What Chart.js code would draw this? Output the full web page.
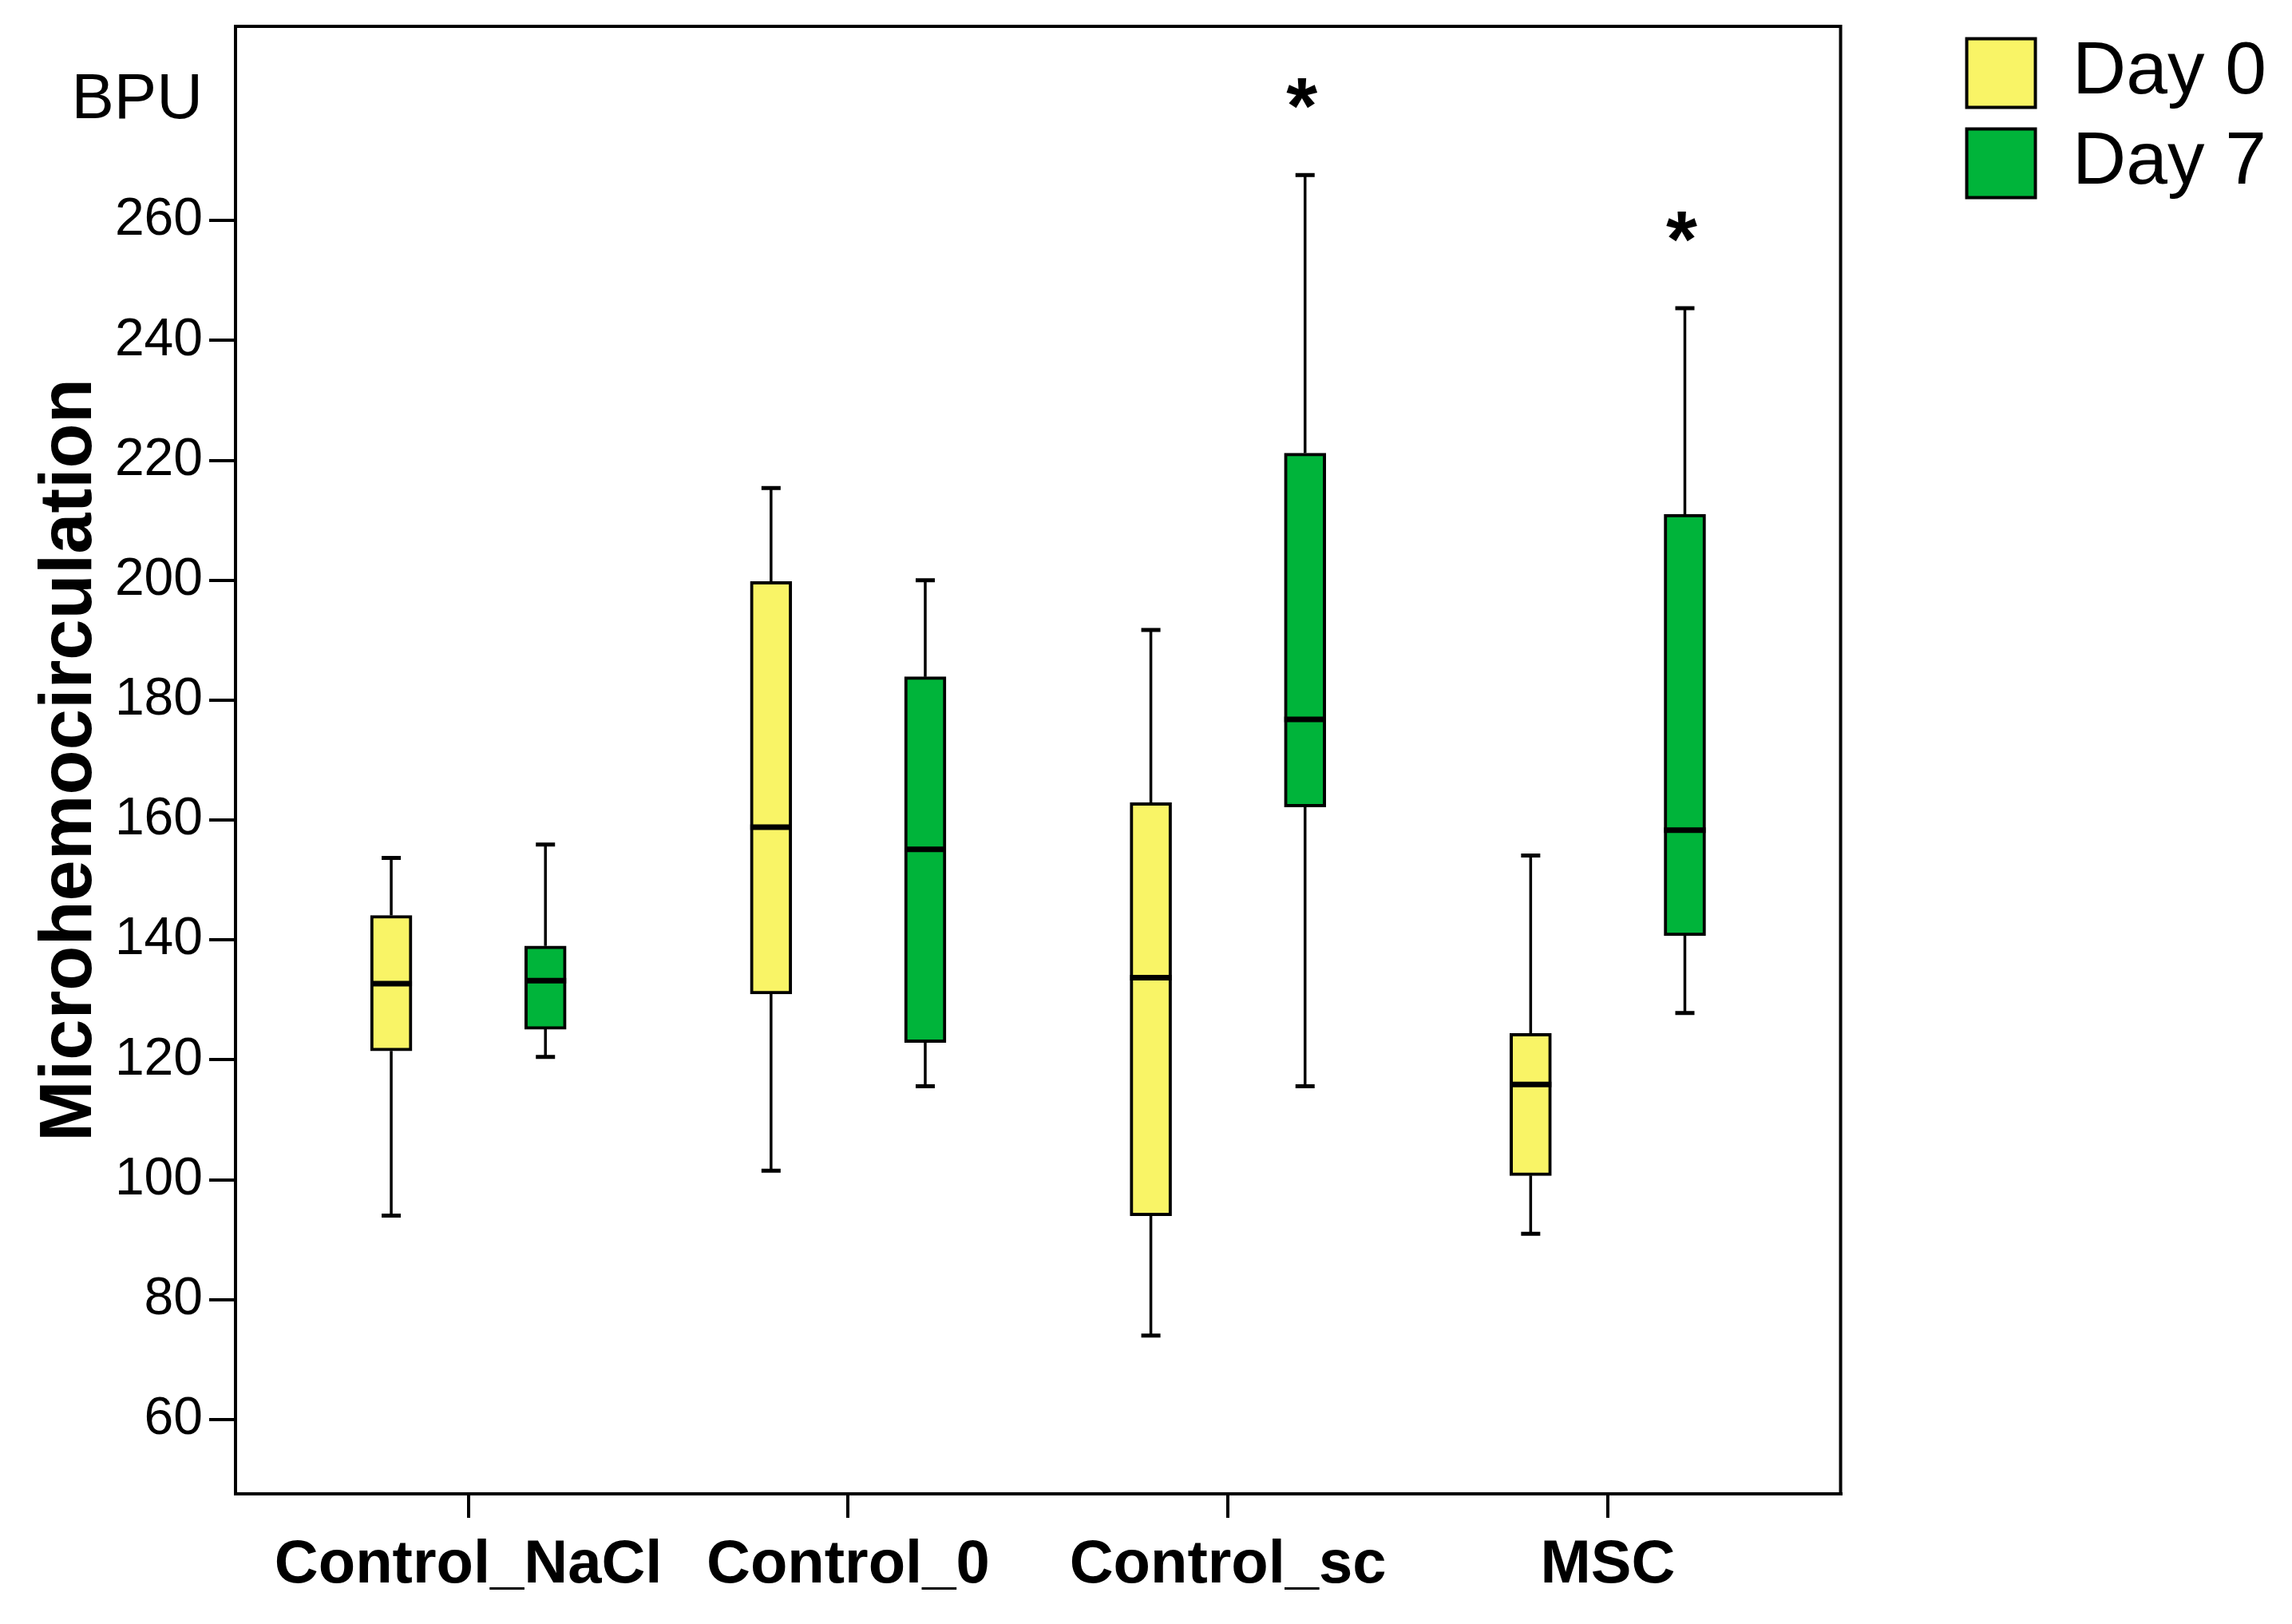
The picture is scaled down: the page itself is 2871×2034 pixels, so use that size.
<!DOCTYPE html>
<html>
<head>
<meta charset="utf-8">
<script src="https://cdn.jsdelivr.net/npm/chart.js@4.4.1/dist/chart.umd.min.js"></script>
<style>
  html, body { margin: 0; padding: 0; background: #fff; }
  #wrap { width: 2871px; height: 2034px; position: relative; }
</style>
</head>
<body>
<div id="wrap"><canvas id="chart"></canvas></div>
<script>
const groups = ['Control_NaCl', 'Control_0', 'Control_sc', 'MSC'];
const seriesNames = ['Day 0', 'Day 7'];

// box plot values (BPU)
const day0Min = [94, 101.5, 74, 91];
const day0Q1 = [121.5, 131, 94, 100.7];
const day0Median = [132.7, 158.8, 133.7, 115.9];
const day0Q3 = [144.1, 199.8, 162.9, 124.4];
const day0Max = [153.7, 215.4, 191.7, 154.1];

const day7Min = [120.5, 115.6, 115.6, 127.8];
const day7Q1 = [125.1, 122.9, 162.2, 140.7];
const day7Median = [133.2, 155.1, 176.8, 158.3];
const day7Q3 = [139, 183.9, 221.2, 211];
const day7Max = [155.9, 200, 267.6, 245.4];

const day0Marks = ['', '', '', ''];
const day7Marks = ['', '', '*', '*'];

const yTicks = [60, 80, 100, 120, 140, 160, 180, 200, 220, 240, 260, 280];
const yUnitTick = 280;
const yUnitLabel = 'BPU';

const FONT = "'Liberation Sans', Arial, sans-serif";
const YELLOW = '#F9F466';
const GREEN = '#00B43A';
const OFFSET = 0.203;
const BOX_W = 52;

const stats = [
  { min: day0Min, q1: day0Q1, med: day0Median, q3: day0Q3, max: day0Max, marks: day0Marks, shift: -OFFSET },
  { min: day7Min, q1: day7Q1, med: day7Median, q3: day7Q3, max: day7Max, marks: day7Marks, shift: OFFSET }
];

const boxData = s => groups.map((_, i) => ({ x: i + s.shift, y: [s.q1[i], s.q3[i]] }));

// whiskers, medians, frame and significance marks
const boxExtras = {
  id: 'boxExtras',
  afterDatasetsDraw(chart) {
    const { ctx, chartArea: a, scales: { x, y } } = chart;
    ctx.save();
    ctx.strokeStyle = '#000';
    stats.forEach(s => {
      groups.forEach((_, i) => {
        const cx = x.getPixelForValue(i + s.shift);
        ctx.lineWidth = 3.5;
        ctx.beginPath();
        ctx.moveTo(cx, y.getPixelForValue(s.q3[i]));
        ctx.lineTo(cx, y.getPixelForValue(s.max[i]));
        ctx.moveTo(cx, y.getPixelForValue(s.q1[i]));
        ctx.lineTo(cx, y.getPixelForValue(s.min[i]));
        ctx.stroke();
        ctx.lineWidth = 5;
        ctx.beginPath();
        ctx.moveTo(cx - 12, y.getPixelForValue(s.max[i]));
        ctx.lineTo(cx + 12, y.getPixelForValue(s.max[i]));
        ctx.moveTo(cx - 12, y.getPixelForValue(s.min[i]));
        ctx.lineTo(cx + 12, y.getPixelForValue(s.min[i]));
        ctx.stroke();
        ctx.lineWidth = 7;
        ctx.beginPath();
        ctx.moveTo(cx - BOX_W / 2, y.getPixelForValue(s.med[i]));
        ctx.lineTo(cx + BOX_W / 2, y.getPixelForValue(s.med[i]));
        ctx.stroke();
        if (s.marks[i]) {
          ctx.fillStyle = '#000';
          ctx.font = 'bold 100px ' + FONT;
          ctx.textAlign = 'center';
          ctx.textBaseline = 'alphabetic';
          ctx.fillText(s.marks[i], cx - 4, y.getPixelForValue(s.max[i]) - 52);
        }
      });
    });
    ctx.lineWidth = 4;
    ctx.strokeRect(a.left, a.top, a.right - a.left, a.bottom - a.top);
    ctx.restore();
  }
};

new Chart(document.getElementById('chart'), {
  type: 'bar',
  data: {
    datasets: stats.map((s, d) => ({
      label: seriesNames[d],
      data: boxData(s),
      backgroundColor: d === 0 ? YELLOW : GREEN,
      borderColor: '#000',
      borderWidth: 4,
      borderSkipped: false,
      barThickness: BOX_W,
      grouped: false
    }))
  },
  options: {
    responsive: true,
    maintainAspectRatio: false,
    devicePixelRatio: 1,
    animation: false,
    layout: { padding: { top: 25, right: 22, bottom: 0, left: 0 } },
    plugins: {
      tooltip: { enabled: false },
      legend: {
        position: 'right',
        align: 'start',
        labels: {
          color: '#000',
          font: { family: FONT, size: 93 },
          boxWidth: 86,
          boxHeight: 86,
          padding: 20
        }
      }
    },
    scales: {
      x: {
        type: 'linear',
        offset: false,
        min: -0.613,
        max: 3.613,
        afterBuildTicks: axis => { axis.ticks = groups.map((_, i) => ({ value: i })); },
        afterFit: axis => { axis.height = 163; axis.paddingLeft = 0; axis.paddingRight = 0; },
        ticks: {
          color: '#000',
          font: { family: FONT, size: 76, weight: 'bold' },
          padding: 14,
          maxRotation: 0,
          autoSkip: false,
          callback: v => groups[v]
        },
        grid: { offset: false, drawOnChartArea: false, color: '#000', lineWidth: 4, tickLength: 30 },
        border: { color: '#000', width: 4 }
      },
      y: {
        min: 47.6,
        max: 292.4,
        afterBuildTicks: axis => { axis.ticks = yTicks.map(v => ({ value: v })); },
        afterFit: axis => { axis.width = 295; axis.paddingTop = 33; axis.paddingBottom = 0; },
        ticks: {
          color: '#000',
          font: ctx => ({ family: FONT, size: ctx.tick && ctx.tick.value === yUnitTick ? 80 : 66 }),
          padding: 8,
          callback: v => (v === yUnitTick ? yUnitLabel : v)
        },
        grid: {
          drawOnChartArea: false,
          color: ctx => (ctx.tick && ctx.tick.value === yUnitTick ? 'rgba(0,0,0,0)' : '#000'),
          lineWidth: 4,
          tickLength: 33
        },
        border: { color: '#000', width: 4 },
        title: {
          display: true,
          text: 'Microhemocirculation',
          color: '#000',
          font: { family: FONT, size: 92, weight: 'bold' },
          padding: { top: 33, bottom: 0 }
        }
      },
      gap: {
        position: 'right',
        display: true,
        afterFit: axis => { axis.width = 138; },
        ticks: { display: false },
        grid: { display: false },
        border: { display: false }
      }
    }
  },
  plugins: [boxExtras]
});
</script>
</body>
</html>
